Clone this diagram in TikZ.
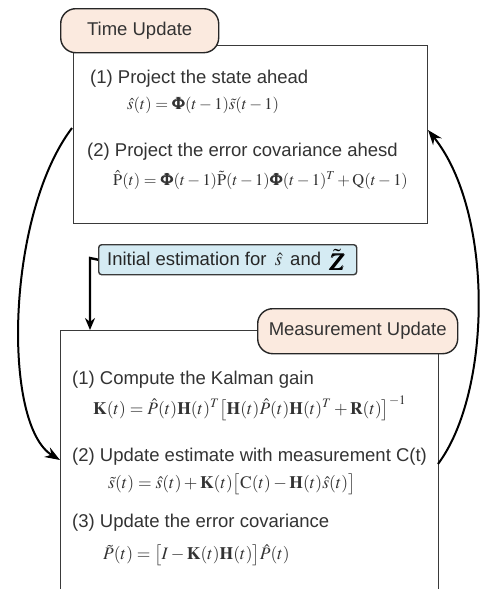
\documentclass[tikz,border=0pt]{standalone}
\usepackage{mathptmx}
\usepackage{bm}
\usepackage[no-math]{fontspec}
\setmainfont{Liberation Sans}
\usetikzlibrary{arrows.meta}
\definecolor{boxline}{HTML}{3A3A3A}
\definecolor{txt}{HTML}{333333}
\definecolor{tabfill}{HTML}{FBEADF}
\definecolor{initfill}{HTML}{D5EBF3}
\tikzset{
  framebox/.style={draw=boxline, line width=1.4pt, fill=white, inner sep=0pt},
  tabbox/.style={draw=black!85, line width=1.4pt, fill=tabfill, rounded corners=15pt, inner sep=0pt, text=txt},
  initbox/.style={draw=boxline, line width=1.4pt, fill=initfill, rounded corners=3pt, inner sep=0pt},
  lbl/.style={anchor=west, inner sep=0pt, text=txt},
  eq/.style={anchor=west, inner sep=0pt, text=txt, font=\fontsize{17.5}{20}\selectfont},
  loop/.style={line width=2pt, -{Stealth[length=15pt,width=11pt]}},
}
\begin{document}
\begin{tikzpicture}[x=1pt, y=-1pt, font=\fontsize{18.5}{22}\selectfont]
\useasboundingbox (0,0) rectangle (482,589);
\clip (0,0) rectangle (482,589);
% top box
\node[framebox, anchor=north west, minimum width=354pt, minimum height=178pt] (top) at (73,45) {};
\node[tabbox, anchor=north west, minimum width=158pt, minimum height=44pt] (tu) at (60,8) {Time Update};
\node[lbl] (t1) at (90,79) {(1) Project the state ahead};
\node[eq, font=\fontsize{16.5}{19}\selectfont] (e1) at (127,105) {$\hat{s}(t)=\bm{\Phi}(t-1)\tilde{s}(t-1)$};
\node[lbl] (t2) at (87,152) {(2) Project the error covariance ahesd};
\node[eq, font=\fontsize{16.4}{19}\selectfont] (e2) at (113,180) {$\hat{\mathrm{P}}(t)=\bm{\Phi}(t-1)\tilde{\mathrm{P}}(t-1)\bm{\Phi}(t-1)^{T}+\mathrm{Q}(t-1)$};
% bottom box
\node[framebox, anchor=north west, minimum width=378pt, minimum height=300pt] (bot) at (60,330) {};
\node[tabbox, anchor=north west, minimum width=200pt, minimum height=45pt] (mu) at (257,308) {Measurement Update};
\node[lbl] (b1) at (72,380) {(1) Compute the Kalman gain};
\node[eq] (f1) at (93,408) {$\mathbf{K}(t)=\hat{P}(t)\mathbf{H}(t)^{T}\bigl[\mathbf{H}(t)\hat{P}(t)\mathbf{H}(t)^{T}+\mathbf{R}(t)\bigr]^{-1}$};
\node[lbl] (b2) at (72,457) {(2) Update estimate with measurement C(t)};
\node[eq] (f2) at (108,484) {$\tilde{s}(t)=\hat{s}(t)+\mathbf{K}(t)\bigl[\mathrm{C}(t)-\mathbf{H}(t)\hat{s}(t)\bigr]$};
\node[lbl] (b3) at (72,523) {(3) Update the error covariance};
\node[eq] (f3) at (103,555) {$\tilde{P}(t)=\bigl[I-\mathbf{K}(t)\mathbf{H}(t)\bigr]\hat{P}(t)$};
% initial estimation
\node[initbox, anchor=north west, minimum width=258pt, minimum height=30pt] (init) at (98,244) {};
\node[lbl, text=black!85] (it) at (107,259) {Initial estimation for \,$\hat{s}$\, and};
\node[anchor=west, inner sep=0pt] (z) at (329,260) {\fontsize{24}{26}\selectfont$\tilde{\bm{Z}}$};
% connectors
\coordinate (ia) at (90,258);
\draw[line width=2.4pt, -{Stealth[length=12pt,width=10pt]}] (init.west) -- (ia) -- (ia |- bot.north);
\coordinate (ls) at (72,128);
\coordinate (le) at (60,460);
\draw[loop] (ls) .. controls (6,215) and (2,425) .. (le);
\coordinate (rs) at (438,464);
\coordinate (re) at (428,130);
\draw[loop] (rs) .. controls (492,392) and (494,212) .. (re);
\end{tikzpicture}
\end{document}
